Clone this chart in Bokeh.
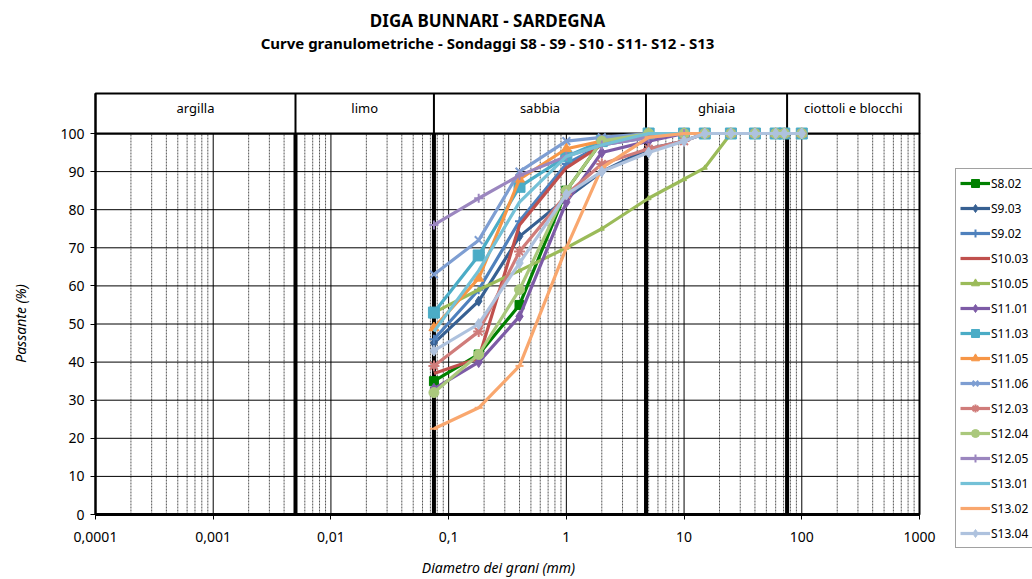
import math
from bokeh.plotting import figure
from bokeh.models import Range1d, FixedTicker, Label, Legend, LegendItem
from bokeh.core.properties import value
from bokeh.embed import file_html
from bokeh.resources import INLINE

# ---------------- data ----------------
sieves = [0.075, 0.18, 0.4, 1, 2, 5, 10, 15, 25, 40, 60, 71, 100]

S8_02 = [35, 42, 55, 85, 98, 100, 100, 100, 100, 100, 100, 100, 100]
S9_03 = [45, 56, 73, 83, 90, 96, 98, 100, 100, 100, 100, 100, 100]
S9_02 = [46, 59, 77, 92, 97, 99, 100, 100, 100, 100, 100, 100, 100]
S10_03 = [37, 41, 76, 91, 97, 100, 100, 100, 100, 100, 100, 100, 100]
S10_05 = [53, 59, 64, 70, 75, 83, 88, 91, 100, 100, 100, 100, 100]
S11_01 = [33, 40, 52, 82, 95, 98, 100, 100, 100, 100, 100, 100, 100]
S11_03 = [53, 68, 86, 94, 98, 100, 100, 100, 100, 100, 100, 100, 100]
S11_05 = [49, 62, 88, 96, 98, 100, 100, 100, 100, 100, 100, 100, 100]
S11_06 = [63, 72, 90, 98, 99, 100, 100, 100, 100, 100, 100, 100, 100]
S12_03 = [39, 48, 69, 84, 92, 96, 98, 100, 100, 100, 100, 100, 100]
S12_04 = [32, 42, 59, 85, 98, 100, 100, 100, 100, 100, 100, 100, 100]
S12_05 = [76, 83, 89, 94, 97, 99, 100, 100, 100, 100, 100, 100, 100]
S13_01 = [48, 64, 82, 94, 97, 100, 100, 100, 100, 100, 100, 100, 100]
S13_02 = [22.5, 28, 39, 70, 91, 99, 100, 100, 100, 100, 100, 100, 100]
S13_04 = [43, 50, 66, 84, 90, 95, 98, 100, 100, 100, 100, 100, 100]

names = ["S8.02", "S9.03", "S9.02", "S10.03", "S10.05", "S11.01", "S11.03", "S11.05",
         "S11.06", "S12.03", "S12.04", "S12.05", "S13.01", "S13.02", "S13.04"]
series = [S8_02, S9_03, S9_02, S10_03, S10_05, S11_01, S11_03, S11_05,
          S11_06, S12_03, S12_04, S12_05, S13_01, S13_02, S13_04]

class_limits = [0.0001, 0.005, 0.075, 4.75, 75, 1000]
class_names = ["argilla", "limo", "sabbia", "ghiaia", "ciottoli e blocchi"]

x_ticks = [0.0001, 0.001, 0.01, 0.1, 1, 10, 100, 1000]
x_tick_labels = ["0,0001", "0,001", "0,01", "0,1", "1", "10", "100", "1000"]
y_ticks = [0, 10, 20, 30, 40, 50, 60, 70, 80, 90, 100]

title_text = "DIGA BUNNARI - SARDEGNA"
subtitle_text = "Curve granulometriche - Sondaggi S8 - S9 - S10 - S11- S12 - S13"
x_title = "Diametro dei grani (mm)"
y_title = "Passante (%)"

# ---------------- layout (pixels) ----------------
W, H = 1032, 579
PLOT_L, PLOT_R, PLOT_T, PLOT_B = 95, 919, 133, 514   # pixel box of the 0..100 area
HEADER_TOP = 110.5
xmin, xmax = class_limits[0], class_limits[-1]
ymin, ymax = 0, 100
dec_px = (PLOT_R - PLOT_L) / (math.log10(xmax) - math.log10(xmin))
unit_px = (PLOT_B - PLOT_T) / (ymax - ymin)
xr = Range1d(xmin / 10 ** (PLOT_L / dec_px), xmax * 10 ** ((W - PLOT_R) / dec_px))
yr = Range1d(ymin - (H - PLOT_B) / unit_px, ymax + PLOT_T / unit_px)

# ---------------- styles ----------------
colors = ["#008000", "#376092", "#4F81BD", "#C0504D", "#9BBB59", "#7D5BA6", "#4BACC6", "#F79646",
          "#7E9ED2", "#D07C7A", "#AAC87C", "#9B86BF", "#74C1D7", "#F9A76E", "#AEC2DE"]
markers = ["square", "diamond", "cross", None, "triangle", "diamond", "square", "triangle",
           "x", "asterisk", "circle", "cross", None, "dash", "diamond"]
msizes = [9, 10, 9, 0, 5, 11, 11, 10, 11, 11, 10, 9, 0, 8, 11]

FONT = "Noto Sans"

p = figure(width=W, height=H, x_axis_type="log", x_range=xr, y_range=yr,
           output_backend="svg", toolbar_location=None, title=None, min_border=0)
p.background_fill_color = "white"
p.border_fill_color = "white"
p.outline_line_color = None
p.xgrid.visible = False
p.ygrid.visible = False

# grid lines (limited to the plotting area)
minor = [k * d for d in x_ticks[:-1] for k in range(2, 10)]
p.segment(x0=minor, y0=[ymin] * len(minor), x1=minor, y1=[ymax] * len(minor),
          line_color="#555555", line_width=1, line_dash="2 1")
p.segment(x0=x_ticks, y0=[ymin] * len(x_ticks), x1=x_ticks, y1=[ymax] * len(x_ticks),
          line_color="black", line_width=1)
p.segment(x0=[xmin] * len(y_ticks), y0=y_ticks, x1=[xmax] * len(y_ticks), y1=y_ticks,
          line_color="black", line_width=1)

# axes drawn inside the frame at fixed locations
xa, ya = p.xaxis[0], p.yaxis[0]
xa.fixed_location = ymin
ya.fixed_location = xmin
xa.bounds = (xmin, xmax)
ya.bounds = (ymin, HEADER_TOP)
xa.ticker = FixedTicker(ticks=x_ticks)
xa.major_label_overrides = {t: s for t, s in zip(x_ticks, x_tick_labels)}
ya.ticker = FixedTicker(ticks=y_ticks)
for ax in (xa, ya):
    ax.axis_line_color = "black"
    ax.axis_line_width = 2
    ax.major_tick_line_color = "black"
    ax.major_tick_in = 0
    ax.major_tick_out = 5
    ax.minor_tick_line_color = None
    ax.major_label_text_font = FONT
    ax.major_label_text_font_size = "14px"
    ax.major_label_text_color = "black"
xa.major_label_standoff = 12
ya.major_label_standoff = 6

# plot border and header band with soil classes
p.quad(left=[xmin], right=[xmax], bottom=[ymin], top=[ymax], fill_color=None,
       line_color="black", line_width=2)
p.segment(x0=[xmin], y0=[ymin], x1=[xmax], y1=[ymin], line_color="black", line_width=3)
p.quad(left=[xmin], right=[xmax], bottom=[ymax], top=[HEADER_TOP],
       fill_color="white", line_color="black", line_width=2)
inner = class_limits[1:-1]
p.segment(x0=inner, y0=[ymax] * len(inner), x1=inner, y1=[HEADER_TOP] * len(inner),
          line_color="black", line_width=2)
p.segment(x0=inner, y0=[ymin] * len(inner), x1=inner, y1=[ymax] * len(inner),
          line_color="black", line_width=4)
centers = [(a * b) ** 0.5 for a, b in zip(class_limits[:-1], class_limits[1:])]
p.text(x=centers, y=[106.6] * len(centers), text=class_names, text_align="center",
       text_baseline="middle", text_font=value(FONT), text_font_size="13px", text_color="black")

items = []
for name, vals, c, m, s in zip(names, series, colors, markers, msizes):
    rs = [p.line(sieves, vals, line_color=c, line_width=3.2)]
    if m is not None:
        rs.append(p.scatter(sieves, vals, marker=m, size=s, fill_color=c, line_color=c,
                            line_width=2 if m in ("x", "cross", "asterisk", "dash") else 1))
    items.append(LegendItem(label=name, renderers=rs))

legend = Legend(items=items, location=(955, H - 548), border_line_color="#444444", border_line_width=1,
                background_fill_color="white", background_fill_alpha=1,
                padding=4, spacing=5, label_height=20, glyph_height=20, glyph_width=30,
                label_standoff=1, margin=0,
                label_text_font=FONT, label_text_font_size="12px", label_text_color="black")
p.add_layout(legend, "center")

def screen_label(x, y, text, size, style, angle=0.0):
    return Label(x=x, y=H - y, x_units="screen", y_units="screen", text=text, angle=angle,
                 text_align="center", text_baseline="middle", text_font=FONT,
                 text_font_size=size, text_font_style=style, text_color="black")

p.add_layout(screen_label(487, 20, title_text, "17px", "bold"))
p.add_layout(screen_label(487, 42, subtitle_text, "15px", "bold"))
p.add_layout(screen_label(498, 567, x_title, "14px", "italic"))
p.add_layout(screen_label(20, 323, y_title, "14px", "italic", angle=math.pi / 2))

open("out.html", "w").write(file_html(p, INLINE))
